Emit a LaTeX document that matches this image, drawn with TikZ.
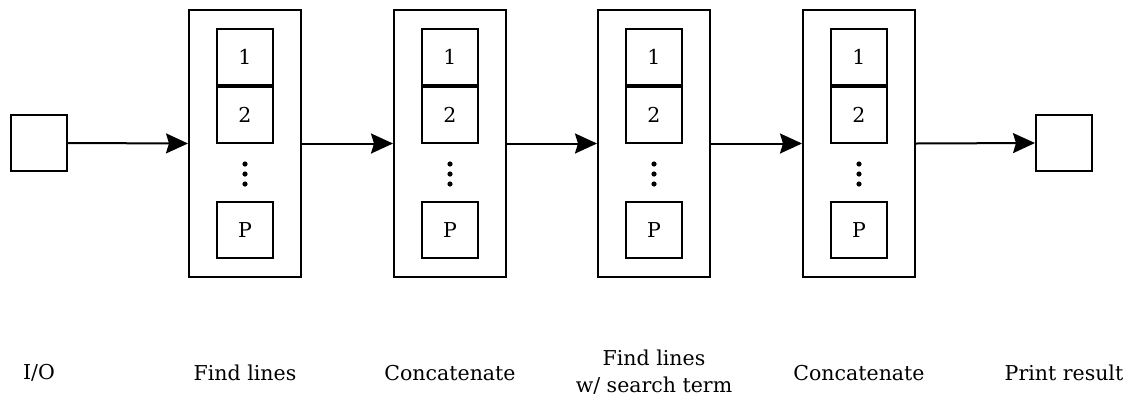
\documentclass[tikz,border=0pt]{standalone}
\usepackage{fontspec}
\setmainfont{DejaVu Serif}
\usetikzlibrary{arrows.meta}
\begin{document}
\begin{tikzpicture}[x=1pt,y=-1pt,
  lw/.style={line width=2pt},
  txt/.style={font=\fontsize{20.5}{26.5}\selectfont},
  sq/.style={draw, lw, minimum width=56pt, minimum height=56pt, inner sep=0pt, txt},
  outer/.style={draw, lw, minimum width=112pt, minimum height=267pt, inner sep=0pt},
  conn/.style={lw, -{Stealth[length=22pt,width=20pt,inset=3pt]}},
  lbl/.style={txt, align=center, inner sep=0pt}]
\useasboundingbox (0,0) rectangle (1128,400);
% I/O squares
\node[sq] (in) at (39,143) {};
\node[sq] (out) at (1064,143) {};
% stages
\foreach \i/\x in {1/245,2/450,3/654,4/859}{
  \node[outer] (s\i) at (\x,143.5) {};
  \node[sq] (s\i a) at (\x,56.5) {1};
  \node[sq] (s\i b) at (\x,115) {2};
  \node[sq] (s\i p) at (\x,230) {P};
  \fill (\x,164) circle (2.6pt) (\x,174) circle (2.6pt) (\x,184) circle (2.6pt);
}
% connectors
\draw[conn] (in.east) -- (s1.west);
\draw[conn] (s1.east) -- (s2.west);
\draw[conn] (s2.east) -- (s3.west);
\draw[conn] (s3.east) -- (s4.west);
\draw[conn] (s4.east) -- (out.west);
% labels
\node[lbl] (l0) at (39,373) {I/O};
\node[lbl] (l1) at (245,373) {Find lines};
\node[lbl] (l2) at (450,373) {Concatenate};
\node[lbl] (l3) at (654,372) {Find lines\\w/ search term};
\node[lbl] (l4) at (859,373) {Concatenate};
\node[lbl] (l5) at (1064,373) {Print result};
\end{tikzpicture}
\end{document}
